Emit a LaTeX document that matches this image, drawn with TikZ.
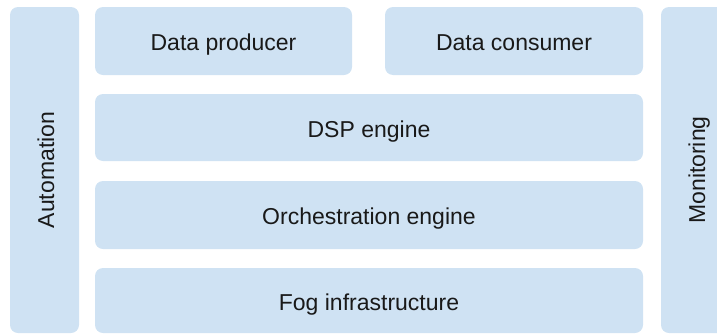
\documentclass[tikz,border=0pt]{standalone}
\usepackage{fontspec}
\setmainfont{Liberation Sans}
\usepackage{tikz}
\usetikzlibrary{positioning}

\definecolor{layerblue}{RGB}{207,226,243}

\tikzset{
  layer/.style={fill=layerblue, rounded corners=8pt, inner sep=0pt, outer sep=0pt,
    text=black!90, font=\fontsize{23}{27}\selectfont, text height=19pt, text depth=0pt},
  sidebar/.style={layer, rotate=90, minimum width=326pt, minimum height=69pt}
}

\begin{document}
\begin{tikzpicture}[x=1pt, y=-1pt]
        \clip (0,0) rectangle (717,335);

        % Cross-cutting concerns
        \node[sidebar] (auto) at (44.5,170) {Automation};
        \node[sidebar] (mon) at (695.5,170) {Monitoring};

        % Top row
        \node[layer, minimum width=257pt, minimum height=68pt] (prod) at (223.5,41) {Data producer};
        \node[layer, minimum width=258pt, minimum height=68pt] (cons) at (514,41) {Data consumer};

        % Stack
        \node[layer, minimum width=548pt, minimum height=67pt] (dsp) at (369,127.5) {DSP engine};
        \node[layer, minimum width=548pt, minimum height=68pt] (orch) at (369,215) {Orchestration engine};
        \node[layer, minimum width=548pt, minimum height=65pt] (fog) at (369,300.5) {Fog infrastructure};
    \end{tikzpicture}
\end{document}
